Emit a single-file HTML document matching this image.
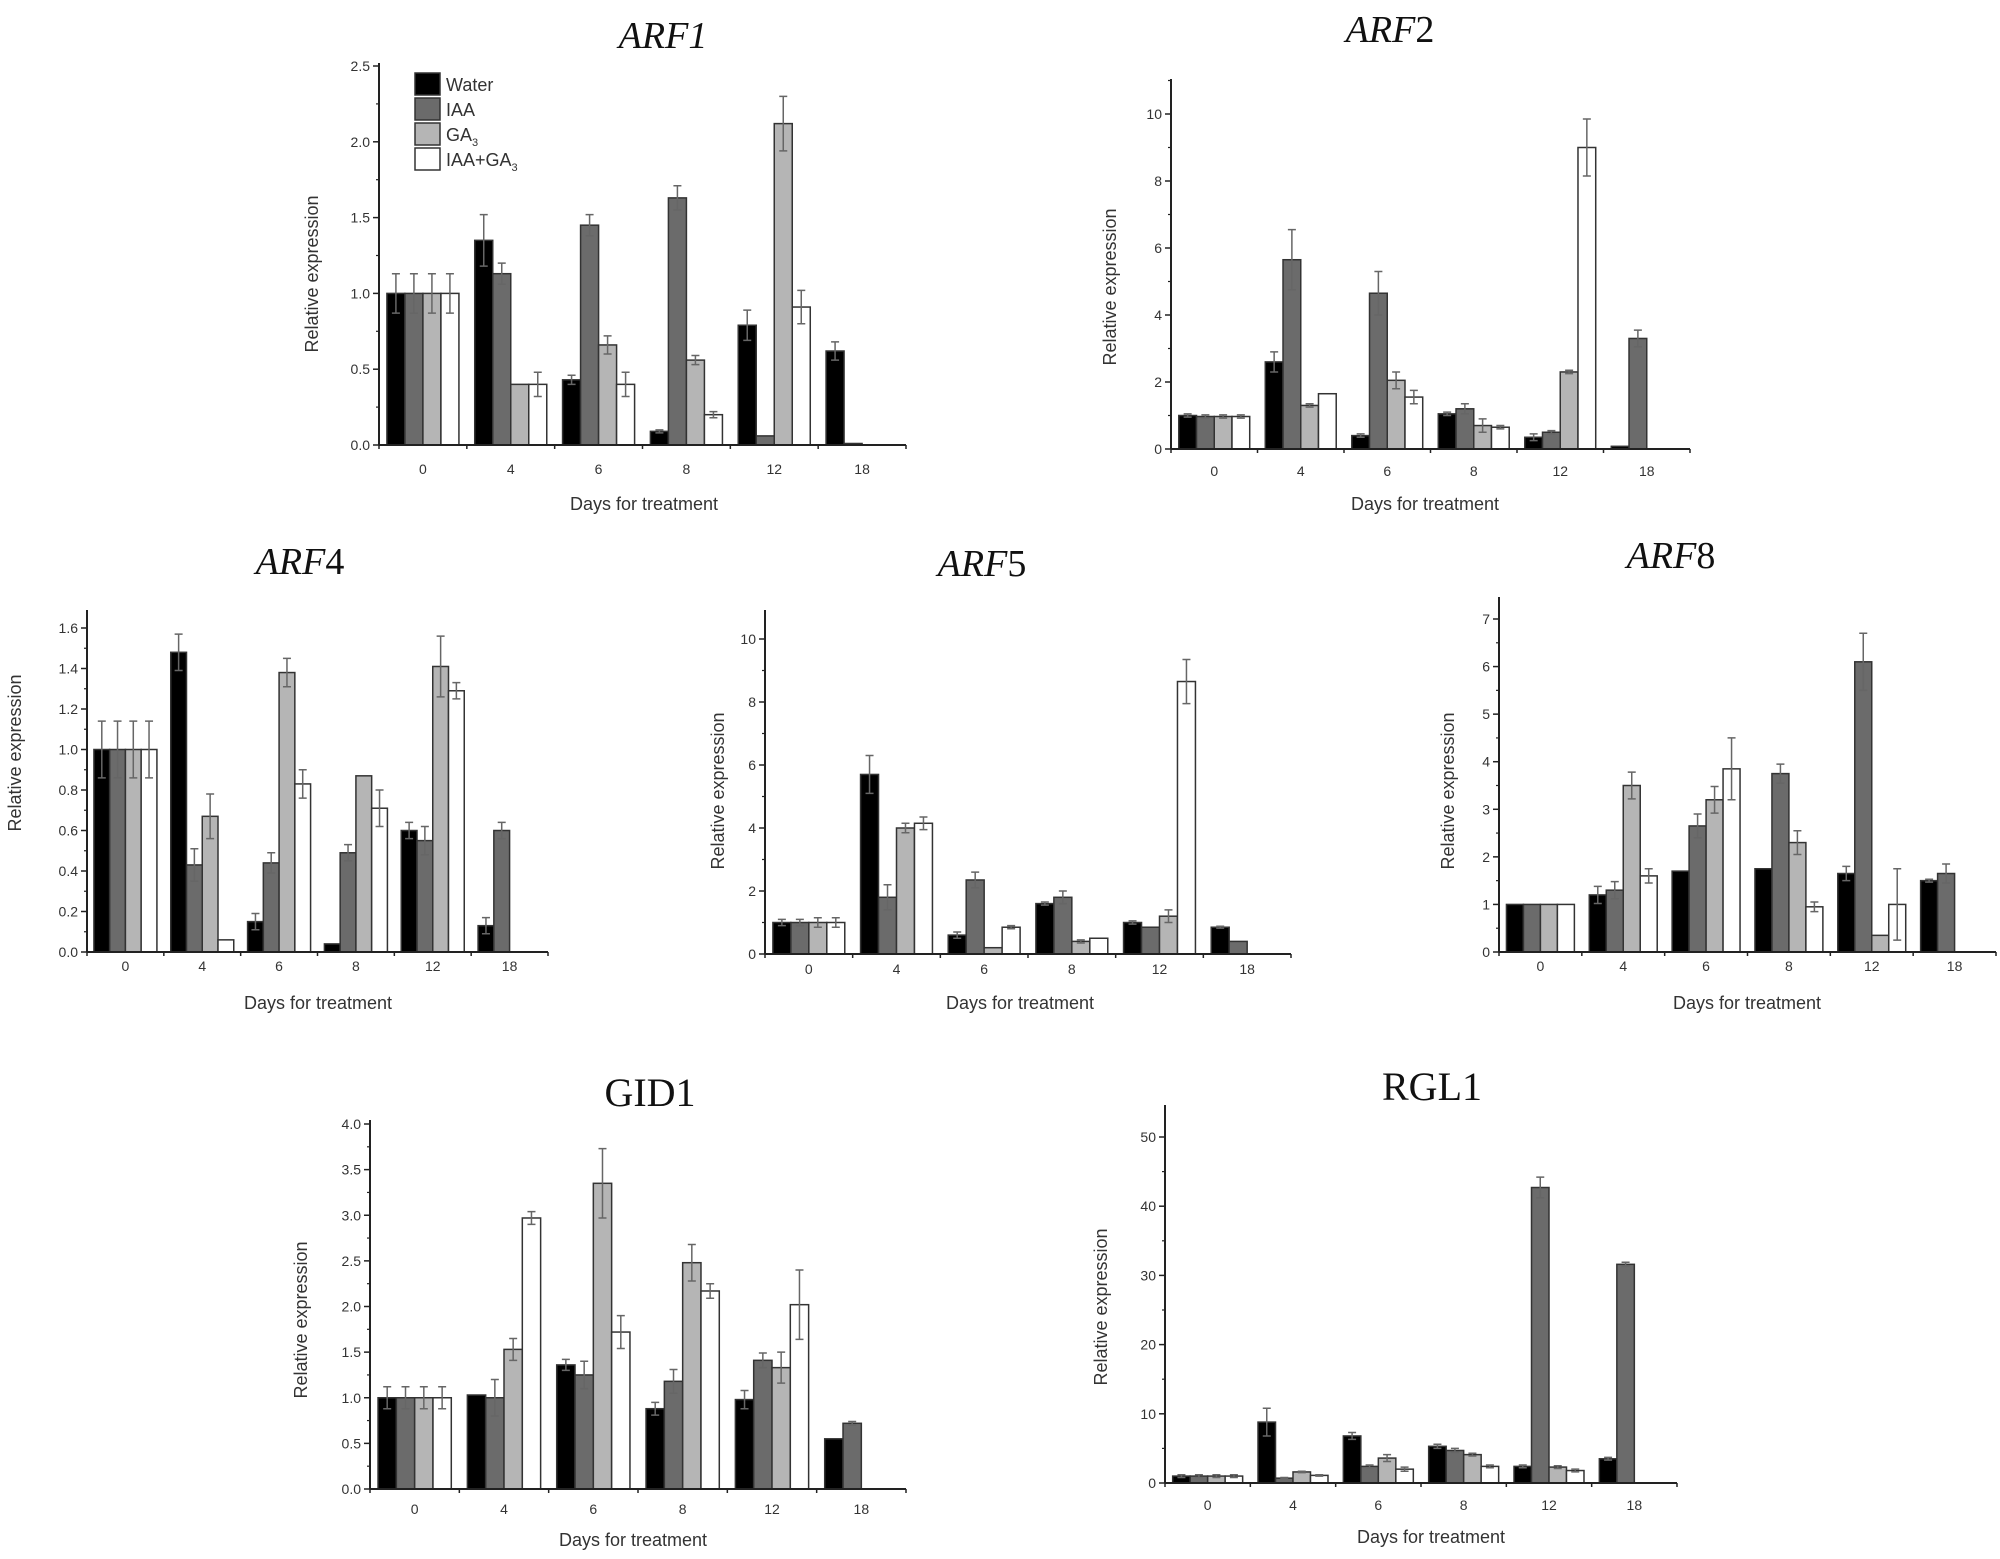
<!DOCTYPE html>
<html><head><meta charset="utf-8"><style>
html,body{margin:0;padding:0;background:#fff;}
svg{display:block;}
text{font-family:"Liberation Sans",sans-serif;fill:#333;}
</style></head><body>
<svg id="fig" width="2000" height="1559" viewBox="0 0 2000 1559" xmlns="http://www.w3.org/2000/svg"></svg>
<script>
const categories = ["0","4","6","8","12","18"];
const seriesNames = ["Water","IAA","GA3","IAA+GA3"];
// ARF1
const arf1Water = [1.0,1.35,0.43,0.09,0.79,0.62];
const arf1IAA = [1.0,1.13,1.45,1.63,0.06,0.01];
const arf1GA = [1.0,0.40,0.66,0.56,2.12,0];
const arf1Mix = [1.0,0.40,0.40,0.20,0.91,0];
const arf1Err = [[0.13,0.17,0.03,0.01,0.1,0.06],[0.13,0.07,0.07,0.08,0,0],[0.13,0,0.06,0.03,0.18,0],[0.13,0.08,0.08,0.02,0.11,0]];
const arf1Ticks = [0,0.5,1.0,1.5,2.0,2.5];
// ARF2
const arf2Water = [1,2.6,0.4,1.05,0.35,0.08];
const arf2IAA = [0.97,5.65,4.65,1.2,0.5,3.3];
const arf2GA = [0.97,1.3,2.05,0.7,2.3,0];
const arf2Mix = [0.97,1.65,1.55,0.65,9.0,0];
const arf2Err = [[0.05,0.3,0.05,0.05,0.1,0],[0.05,0.9,0.65,0.15,0.05,0.25],[0.05,0.05,0.25,0.2,0.05,0],[0.05,0,0.2,0.05,0.85,0]];
const arf2Ticks = [0,2,4,6,8,10];
// ARF4
const arf4Water = [1.0,1.48,0.15,0.04,0.60,0.13];
const arf4IAA = [1.0,0.43,0.44,0.49,0.55,0.60];
const arf4GA = [1.0,0.67,1.38,0.87,1.41,0];
const arf4Mix = [1.0,0.06,0.83,0.71,1.29,0];
const arf4Err = [[0.14,0.09,0.04,0,0.04,0.04],[0.14,0.08,0.05,0.04,0.07,0.04],[0.14,0.11,0.07,0,0.15,0],[0.14,0,0.07,0.09,0.04,0]];
const arf4Ticks = [0,0.2,0.4,0.6,0.8,1.0,1.2,1.4,1.6];
// ARF5
const arf5Water = [1,5.7,0.6,1.6,1.0,0.85];
const arf5IAA = [1,1.8,2.35,1.8,0.85,0.4];
const arf5GA = [1,4.0,0.2,0.4,1.2,0];
const arf5Mix = [1,4.15,0.85,0.5,8.65,0];
const arf5Err = [[0.1,0.6,0.1,0.05,0.05,0.03],[0.1,0.4,0.25,0.2,0,0],[0.15,0.15,0,0.05,0.2,0],[0.15,0.2,0.05,0,0.7,0]];
const arf5Ticks = [0,2,4,6,8,10];
// ARF8
const arf8Water = [1,1.2,1.7,1.75,1.65,1.5];
const arf8IAA = [1,1.3,2.65,3.75,6.1,1.65];
const arf8GA = [1,3.5,3.2,2.3,0.35,0];
const arf8Mix = [1,1.6,3.85,0.95,1.0,0];
const arf8Err = [[0,0.18,0,0,0.15,0.03],[0,0.18,0.25,0.2,0.6,0.2],[0,0.28,0.28,0.25,0,0],[0,0.15,0.65,0.1,0.75,0]];
const arf8Ticks = [0,1,2,3,4,5,6,7];
// GID1
const gidWater = [1,1.03,1.36,0.88,0.98,0.55];
const gidIAA = [1,1.0,1.25,1.18,1.41,0.72];
const gidGA = [1,1.53,3.35,2.48,1.33,0];
const gidMix = [1,2.97,1.72,2.17,2.02,0];
const gidErr = [[0.12,0,0.06,0.07,0.1,0],[0.12,0.2,0.15,0.13,0.08,0.02],[0.12,0.12,0.38,0.2,0.17,0],[0.12,0.07,0.18,0.08,0.38,0]];
const gidTicks = [0,0.5,1.0,1.5,2.0,2.5,3.0,3.5,4.0];
// RGL1
const rglWater = [1,8.8,6.8,5.3,2.4,3.5];
const rglIAA = [1,0.7,2.4,4.7,42.7,31.6];
const rglGA = [1,1.6,3.6,4.1,2.3,0];
const rglMix = [1,1.1,2.0,2.4,1.8,0];
const rglErr = [[0.2,2.0,0.5,0.3,0.2,0.2],[0.2,0.1,0.2,0.3,1.5,0.3],[0.2,0.1,0.5,0.2,0.2,0],[0.2,0.1,0.3,0.2,0.2,0]];
const rglTicks = [0,10,20,30,40,50];

const fills = ["#000000","#6b6b6b","#b5b5b5","#ffffff"];
const NS = "http://www.w3.org/2000/svg";
const svg = document.getElementById("fig");
function mk(tag, attrs, parent){const e=document.createElementNS(NS,tag);for(const k in attrs)e.setAttribute(k,attrs[k]);(parent||svg).appendChild(e);return e;}

const panels = [
 {id:"arf1",title:"ARF1",italic:true,tx:663,ty:48,x0:379,x1:906,y0:445,ytop:66,vtop:2.5,axTop:63,ticks:arf1Ticks,dec:1,series:[arf1Water,arf1IAA,arf1GA,arf1Mix],err:arf1Err,ylx:312,yly:274,xlx:644,xly:510,cy:474},
 {id:"arf2",title:"ARF2",italic:true,tx:1390,ty:42,x0:1171,x1:1690,y0:449,ytop:114,vtop:10,axTop:79,ticks:arf2Ticks,dec:0,series:[arf2Water,arf2IAA,arf2GA,arf2Mix],err:arf2Err,ylx:1110,yly:287,xlx:1425,xly:510,cy:476},
 {id:"arf4",title:"ARF4",italic:true,tx:300,ty:574,x0:87,x1:548,y0:952,ytop:628,vtop:1.6,axTop:610,ticks:arf4Ticks,dec:1,series:[arf4Water,arf4IAA,arf4GA,arf4Mix],err:arf4Err,ylx:15,yly:753,xlx:318,xly:1009,cy:971},
 {id:"arf5",title:"ARF5",italic:true,tx:982,ty:576,x0:765,x1:1291,y0:954,ytop:639,vtop:10,axTop:610,ticks:arf5Ticks,dec:0,series:[arf5Water,arf5IAA,arf5GA,arf5Mix],err:arf5Err,ylx:718,yly:791,xlx:1020,xly:1009,cy:974},
 {id:"arf8",title:"ARF8",italic:true,tx:1671,ty:568,x0:1499,x1:1996,y0:952,ytop:619,vtop:7,axTop:597,ticks:arf8Ticks,dec:0,series:[arf8Water,arf8IAA,arf8GA,arf8Mix],err:arf8Err,ylx:1448,yly:791,xlx:1747,xly:1009,cy:971},
 {id:"gid1",title:"GID1",italic:false,tx:650,ty:1106,x0:370,x1:906,y0:1489,ytop:1124,vtop:4.0,axTop:1120,ticks:gidTicks,dec:1,series:[gidWater,gidIAA,gidGA,gidMix],err:gidErr,ylx:301,yly:1320,xlx:633,xly:1546,cy:1514},
 {id:"rgl1",title:"RGL1",italic:false,tx:1432,ty:1100,x0:1165,x1:1677,y0:1483,ytop:1137,vtop:50,axTop:1105,ticks:rglTicks,dec:0,series:[rglWater,rglIAA,rglGA,rglMix],err:rglErr,ylx:1101,yly:1307,xlx:1431,xly:1543,cy:1510}
];

panels.forEach(p=>{
  const g = mk("g",{});
  
  
  const yScale = v => p.y0 - (v/p.vtop)*(p.y0-p.ytop);
  const gw = (p.x1-p.x0)/6;
  const bw = gw*0.82/4;
  let t;
  if(p.italic){
    t = mk("text",{x:p.tx,y:p.ty,"text-anchor":"middle","font-size":38,style:"font-family:'Liberation Serif',serif;fill:#111"},g);
    const m = p.title.match(/^([A-Z]+)(\d+)$/);
    const s1 = mk("tspan",{"font-style":"italic"},t); s1.textContent = m[1];
    const s2 = mk("tspan",{"font-style": p.id==="arf1"?"italic":"normal"},t); s2.textContent = m[2];
  } else {
    t = mk("text",{x:p.tx,y:p.ty,"text-anchor":"middle","font-size":40,style:"font-family:'Liberation Serif',serif;fill:#111"},g);
    t.textContent = p.title;
  }
  
  
  for(let s=0;s<4;s++){
    for(let c=0;c<6;c++){
      const v = p.series[s][c];
      if(v<=0) continue;
      const bx = p.x0 + c*gw + gw*0.09 + s*bw;
      const by = yScale(v);
      const r = mk("rect",{x:bx,y:by,width:bw,height:Math.max(1,p.y0-by),fill:fills[s],stroke:"#333","stroke-width":1.5},g);
      
      
      const e = p.err[s][c];
      if(e>0){
        const cx = bx+bw/2, ya=yScale(v+e), yb=yScale(v-e);
        const eb = mk("path",{d:`M${cx},${ya}V${yb}M${cx-4},${ya}H${cx+4}M${cx-4},${yb}H${cx+4}`,stroke:"#666","stroke-width":1.5,fill:"none"},g);
        
        
      }
    }
  }
  const ya = mk("line",{x1:p.x0,y1:p.axTop,x2:p.x0,y2:p.y0,stroke:"#222","stroke-width":2},g);
  
  
  const xa = mk("line",{x1:p.x0,y1:p.y0,x2:p.x1,y2:p.y0,stroke:"#222","stroke-width":2},g);
  
  
  const step = p.ticks[1]-p.ticks[0];
  p.ticks.forEach(v=>{
    const y = yScale(v);
    mk("line",{x1:p.x0-6,y1:y,x2:p.x0,y2:y,stroke:"#222","stroke-width":1.5},g);
    const tl = mk("text",{x:p.x0-9,y:y+5,"text-anchor":"end","font-size":14},g);
    tl.textContent = v.toFixed(p.dec);
    
    
    const ym = yScale(v+step/2);
    if(ym>=p.axTop-1) mk("line",{x1:p.x0-3,y1:ym,x2:p.x0,y2:ym,stroke:"#222","stroke-width":1.2},g);
  });
  for(let c=0;c<=6;c++){
    const x = p.x0+c*gw;
    mk("line",{x1:x,y1:p.y0,x2:x,y2:p.y0+4,stroke:"#222","stroke-width":1.5},g);
  }
  categories.forEach((cat,c)=>{
    const cl = mk("text",{x:p.x0+c*gw+gw*0.5,y:p.cy,"text-anchor":"middle","font-size":14},g);
    cl.textContent = cat;
    
    
  });
  const yl = mk("text",{x:0,y:0,"text-anchor":"middle","font-size":18,transform:`translate(${p.ylx+6},${p.yly}) rotate(-90)`},g);
  yl.textContent = "Relative expression";
  
  
  const xl = mk("text",{x:p.xlx,y:p.xly,"text-anchor":"middle","font-size":18},g);
  xl.textContent = "Days for treatment";
  
  
});

const lg = mk("g",{});


const legendLabels = [["Water",""],["IAA",""],["GA","3"],["IAA+GA","3"]];
legendLabels.forEach((lab,i)=>{
  const y = 73 + i*25;
  const ent = mk("g",{},lg);
  
  
  mk("rect",{x:415,y:y,width:25,height:22,fill:fills[i],stroke:"#333","stroke-width":1.5},ent);
  const tx = mk("text",{x:446,y:y+18,"font-size":18},ent);
  const a = mk("tspan",{},tx); a.textContent = lab[0];
  if(lab[1]){const b = mk("tspan",{"font-size":11,dy:5},tx); b.textContent = lab[1];}
});
</script>
</body></html>
